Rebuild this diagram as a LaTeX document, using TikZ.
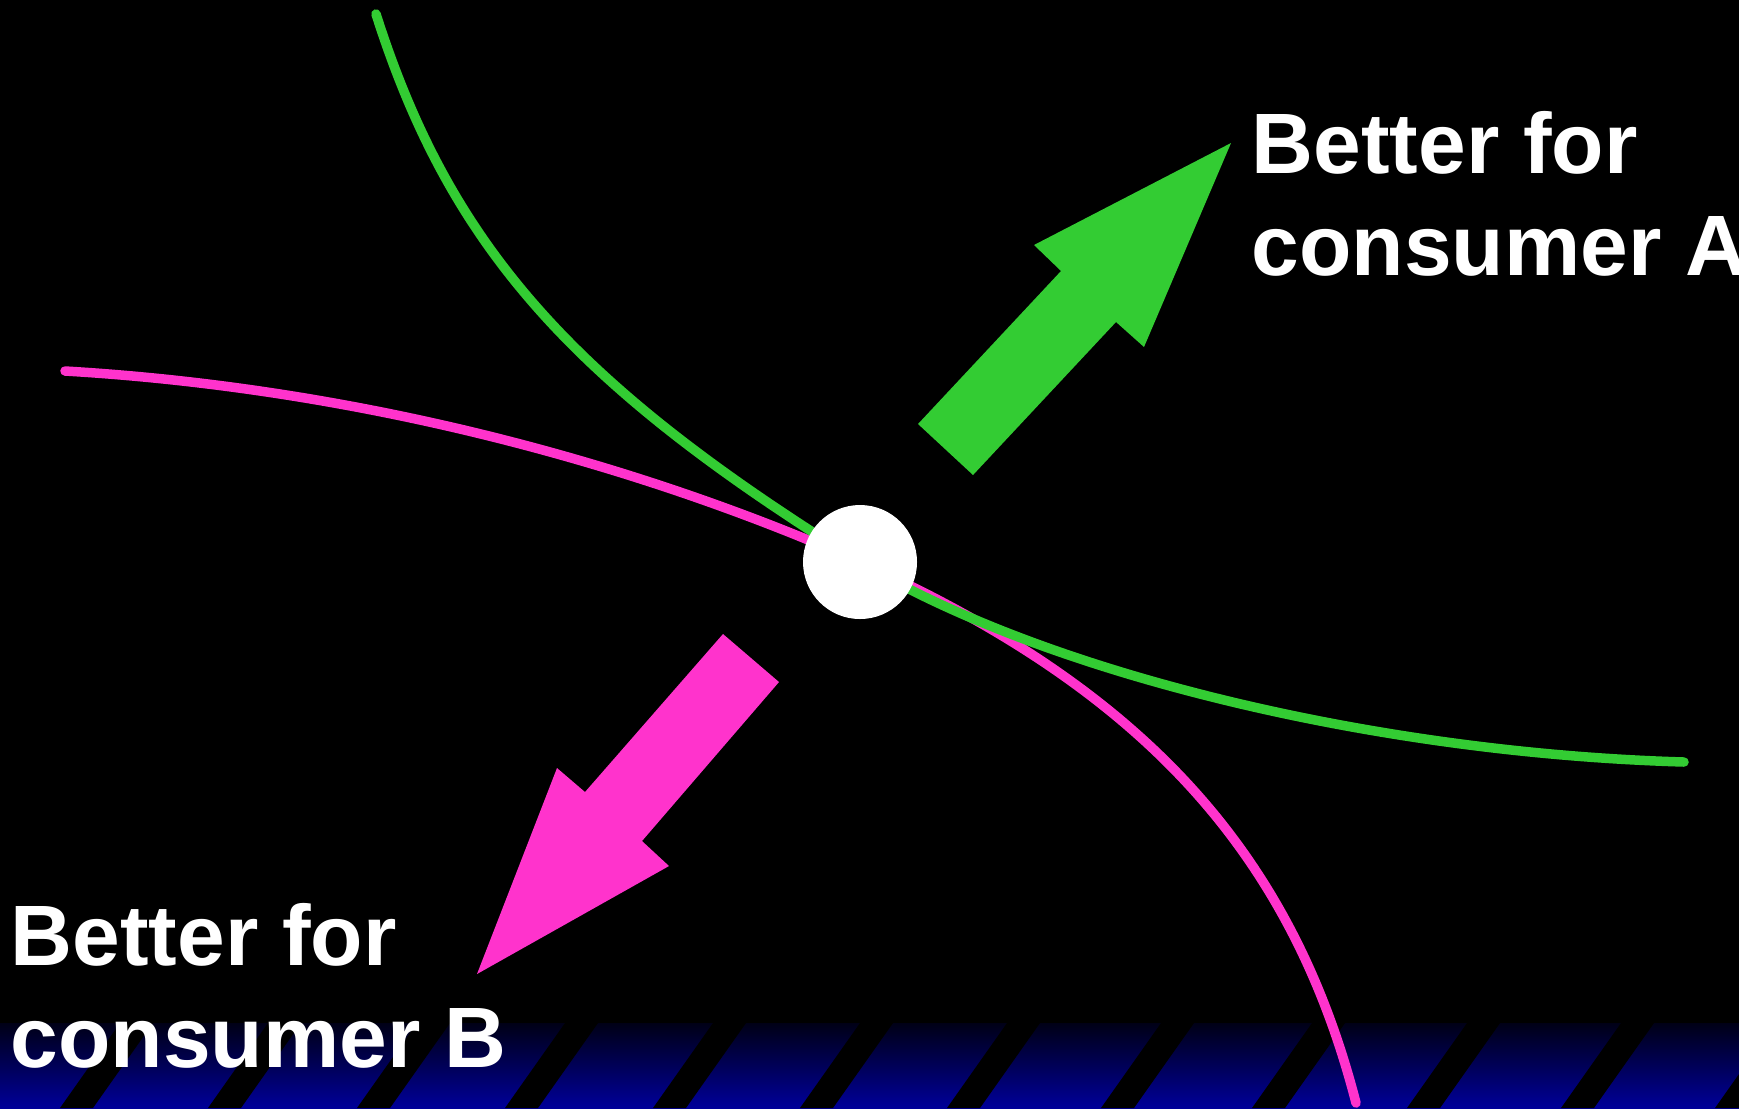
\documentclass[tikz,border=0pt]{standalone}
\usepackage{fontspec}
\setmainfont{Liberation Sans}
\usetikzlibrary{positioning}

\definecolor{indgreen}{RGB}{51,204,51}
\definecolor{indpink}{RGB}{255,51,204}
\definecolor{bandtop}{RGB}{0,0,22}
\definecolor{bandbot}{RGB}{0,0,153}

\begin{document}
\begin{tikzpicture}[x=1cm,y=1cm,
  labeltext/.style={text=white, font=\fontsize{24.4}{29}\selectfont\bfseries, inner sep=0pt, anchor=base west},
  curve/.style={line width=0.095cm, line cap=round},
  dot/.style={circle, fill=white, inner sep=0pt, minimum size=1.14cm}]
  \clip (0,0) rectangle (17.39,-11.08);
  \fill[black] (0,0) rectangle (17.39,-11.08);
  % striped band at the bottom
  \shade[top color=bandtop, bottom color=bandbot] (0,-10.23) rectangle (17.39,-11.08);
  \foreach \s in {0.60,2.08,3.57,5.05,6.53,8.00,9.47,11.01,12.52,14.07,15.61,17.15}
    \fill[black] (\s,-11.08) -- ++(0.33,0) -- ++(0.60,0.85) -- ++(-0.33,0) -- cycle;
  \coordinate (pt) at (8.60,-5.62);
  % consumer B
  \draw[curve, indpink] (0.65,-3.71) .. controls (3.37,-3.87) and (6.15,-4.54) .. (pt)
    .. controls (11.42,-6.89) and (12.91,-8.51) .. (13.56,-11.03);
  % consumer A
  \draw[curve, indgreen] (3.76,-0.14) .. controls (4.50,-2.46) and (5.71,-3.83) .. (pt)
    .. controls (10.45,-6.73) and (13.74,-7.53) .. (16.84,-7.62);
  \node[dot] (alloc) at (pt) {};
  % block arrows
  \fill[indgreen] (12.31,-1.43) -- (11.44,-3.47) -- (11.16,-3.22) -- (9.73,-4.75) -- (9.18,-4.24) -- (10.61,-2.71) -- (10.34,-2.45) -- cycle;
  \fill[indpink] (4.77,-9.74) -- (5.57,-7.68) -- (5.85,-7.92) -- (7.23,-6.34) -- (7.79,-6.82) -- (6.42,-8.41) -- (6.69,-8.66) -- cycle;
  % labels
  \node[labeltext] (betterA) at (12.51,-1.73) {Better for};
  \node[labeltext] (consA) at ([yshift=-1.02cm]betterA.base west) {consumer A};
  \node[labeltext] (betterB) at (0.10,-9.65) {Better for};
  \node[labeltext] (consB) at ([yshift=-1.02cm]betterB.base west) {consumer B};
\end{tikzpicture}
\end{document}
